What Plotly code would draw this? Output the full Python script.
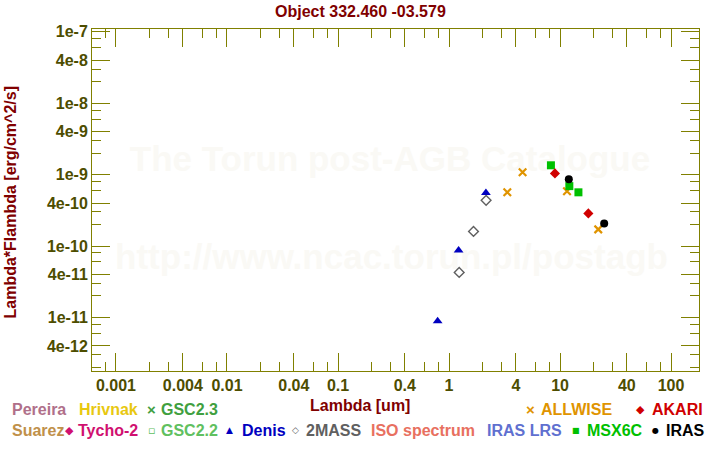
import plotly.graph_objects as go

# ---------------- data ----------------
allwise_wl = [3.35, 4.6, 11.56, 22.09]
allwise_f = [5.65e-10, 1.08e-9, 5.83e-10, 1.71e-10]
akari_wl = [9.0, 18.0]
akari_f = [1.04e-9, 2.86e-10]
msx_wl = [8.28, 12.13, 14.65]
msx_f = [1.35e-9, 6.9e-10, 5.65e-10]
iras_wl = [12.0, 25.0]
iras_f = [8.6e-10, 2.07e-10]
denis_wl = [0.79, 1.22, 2.15]
denis_f = [8.9e-12, 8.7e-11, 5.57e-10]
tmass_wl = [1.235, 1.662, 2.159]
tmass_f = [4.27e-11, 1.60e-10, 4.36e-10]

x_tickvals = [0.001, 0.004, 0.01, 0.04, 0.1, 0.4, 1, 4, 10, 40, 100]
x_ticktext = ["0.001", "0.004", "0.01", "0.04", "0.1", "0.4", "1", "4", "10", "40", "100"]
y_tickvals = [1e-7, 4e-8, 1e-8, 4e-9, 1e-9, 4e-10, 1e-10, 4e-11, 1e-11, 4e-12]
y_ticktext = ["1e-7", "4e-8", "1e-8", "4e-9", "1e-9", "4e-10", "1e-10", "4e-11", "1e-11", "4e-12"]
minor_mult = [2, 3, 6, 8]

legend_labels = ["Pereira", "Hrivnak", "GSC2.3", "ALLWISE", "AKARI",
                 "Suarez", "Tycho-2", "GSC2.2", "Denis", "2MASS",
                 "ISO spectrum", "IRAS LRS", "MSX6C", "IRAS"]
legend_colors = ["#B0708A", "#E8C810", "#40A040", "#E09400", "#D00000",
                 "#C0904A", "#D01070", "#60C060", "#0000C0", "#606060",
                 "#E87060", "#6070D0", "#00C000", "#000000"]
legend_symbols = ["", "", "\u00d7", "\u00d7", "\u25c6",
                  "", "\u25c6", "\u25ab", "\u25b2", "\u25c7",
                  "", "", "\u25a0", "\u25cf"]

title_text = "Object 332.460 -03.579"
xtitle = "Lambda [um]"
ytitle = "Lambda*Flambda [erg/cm^2/s]"
watermark = ["The Torun post-AGB Catalogue", "http://www.ncac.torun.pl/postagb"]

# ---------------- layout geometry ----------------
W, H = 720, 450
ML, MR, MT, MB = 92, 21, 29, 79
PW, PH = W - ML - MR, H - MT - MB
XR = [-3.216, 2.252]
YR = [-11.749, -6.962]

# legend layout (pixel positions): (symbol centre x, text left x, row y)
leg_pos = [(None, 11, 410), (None, 77.7, 410), (151.3, 160.3, 410), (530, 540.3, 410), (640, 650.7, 410),
           (None, 11, 430), (69.7, 76.7, 430), (151.3, 160.3, 430), (229, 241, 430), (295.5, 305.3, 430),
           (None, 370, 430), (None, 485.7, 430), (575.8, 585.7, 430), (655, 665, 430)]
sym_size = {"\u00d7": 15, "\u25c6": 11, "\u25ab": 11, "\u25b2": 9, "\u25c7": 9, "\u25a0": 8, "\u25cf": 8}


def px_to_paper_x(px):
    return (px - ML) / PW


def px_to_paper_y(py):
    return (H - MB - py) / PH


def px_to_logx(px):
    return 10 ** (XR[0] + (px - ML) / PW * (XR[1] - XR[0]))


def px_to_logy(py):
    return 10 ** (YR[1] - (py - MT) / PH * (YR[1] - YR[0]))


FONT = "Liberation Sans, Arial, sans-serif"
AX = "#808000"
TICKC = "#4D4D00"
TITLEC = "#800000"

fig = go.Figure()

# watermark (below data)
wm_x = [px_to_logx(390), px_to_logx(391.5)]
wm_y = [px_to_logy(162.5), px_to_logy(260)]
fig.add_trace(go.Scatter(x=wm_x, y=wm_y, mode="text", text=watermark,
                         textposition="middle center",
                         textfont=dict(family=FONT, size=35, color="#FAF9F5", weight="bold"),
                         hoverinfo="skip", showlegend=False))

fig.add_trace(go.Scatter(x=tmass_wl, y=tmass_f, mode="markers", name="2MASS",
                         marker=dict(symbol="diamond-open", size=7.5, color="#606060",
                                     line=dict(width=1.4, color="#606060"))))
fig.add_trace(go.Scatter(x=denis_wl, y=denis_f, mode="markers", name="Denis",
                         marker=dict(symbol="triangle-up", size=8.5, color="#0000C0", line=dict(width=0))))
fig.add_trace(go.Scatter(x=allwise_wl, y=allwise_f, mode="markers", name="ALLWISE",
                         marker=dict(symbol="x-thin", size=7.5, color="#E09400",
                                     line=dict(width=2.2, color="#E09400"))))
fig.add_trace(go.Scatter(x=msx_wl, y=msx_f, mode="markers", name="MSX6C",
                         marker=dict(symbol="square", size=8, color="#00C000", line=dict(width=0))))
fig.add_trace(go.Scatter(x=akari_wl, y=akari_f, mode="markers", name="AKARI",
                         marker=dict(symbol="diamond", size=7.8, color="#D00000", line=dict(width=0))))
fig.add_trace(go.Scatter(x=iras_wl, y=iras_f, mode="markers", name="IRAS",
                         marker=dict(symbol="circle", size=8, color="#000000", line=dict(width=0))))


def minor_vals(lo, hi):
    out = []
    for e in range(lo, hi + 1):
        for m in minor_mult:
            out.append(m * 10 ** e)
    return out


axis_common = dict(type="log", showline=True, linecolor=AX, linewidth=1, mirror="allticks",
                   ticks="inside", ticklen=18, tickwidth=1, tickcolor=AX, showgrid=False, zeroline=False,
                   tickfont=dict(family=FONT, size=16, color=TICKC, weight="bold"), tickmode="array")

fig.update_xaxes(range=XR, tickvals=x_tickvals, ticktext=x_ticktext,
                 minor=dict(tickvals=minor_vals(-4, 2), ticks="inside", ticklen=9, tickcolor=AX, tickwidth=1,
                            showgrid=False),
                 **axis_common)
fig.update_yaxes(range=YR, tickvals=y_tickvals, ticktext=y_ticktext,
                 minor=dict(tickvals=minor_vals(-13, -8), ticks="inside", ticklen=9, tickcolor=AX, tickwidth=1,
                            showgrid=False),
                 **axis_common)

ann = []
ann.append(dict(text=title_text, x=px_to_paper_x(360), y=px_to_paper_y(11.7), xref="paper", yref="paper",
                xanchor="center", yanchor="middle", showarrow=False,
                font=dict(family=FONT, size=16, color=TITLEC, weight="bold")))
ann.append(dict(text=xtitle, x=px_to_paper_x(360), y=px_to_paper_y(405.5), xref="paper", yref="paper",
                xanchor="center", yanchor="middle", showarrow=False,
                font=dict(family=FONT, size=16, color=TITLEC, weight="bold")))
ann.append(dict(text=ytitle, x=px_to_paper_x(10), y=px_to_paper_y(202.5), xref="paper", yref="paper",
                xanchor="center", yanchor="middle", showarrow=False, textangle=-90,
                font=dict(family=FONT, size=16, color=TITLEC, weight="bold")))

for lab, col, sym, (sx, tx, ty) in zip(legend_labels, legend_colors, legend_symbols, leg_pos):
    ann.append(dict(text=lab, x=px_to_paper_x(tx - 1), y=px_to_paper_y(ty), xref="paper", yref="paper",
                    xanchor="left", yanchor="middle", showarrow=False,
                    font=dict(family=FONT, size=16, color=col, weight="bold")))
    if sym:
        fam = FONT if sym == "\u00d7" else "DejaVu Sans"
        ann.append(dict(text=sym, x=px_to_paper_x(sx), y=px_to_paper_y(ty), xref="paper", yref="paper",
                        xanchor="center", yanchor="middle", showarrow=False,
                        font=dict(family=fam, size=sym_size[sym], color=col,
                                  weight="bold" if sym == "\u00d7" else "normal")))

fig.update_layout(width=W, height=H, margin=dict(l=ML, r=MR, t=MT, b=MB),
                  paper_bgcolor="white", plot_bgcolor="white", showlegend=False,
                  annotations=ann)

fig.write_html("out.html")
